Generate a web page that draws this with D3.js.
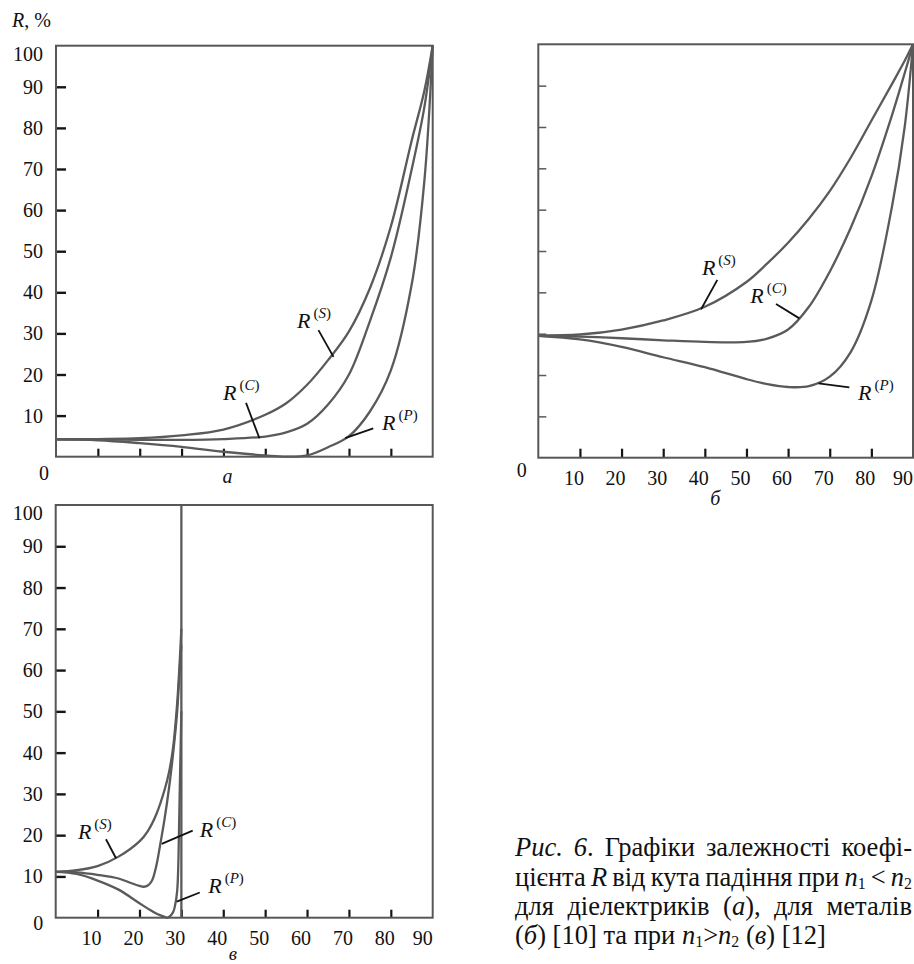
<!DOCTYPE html>
<html>
<head>
<meta charset="utf-8">
<script src="https://cdn.jsdelivr.net/npm/d3@7"></script>
<style>
  body { margin: 0; background: #fff; }
  svg { display: block; }
</style>
</head>
<body>
<svg id="chart" width="914" height="964"></svg>
<script>
// ---- data (angle of incidence, deg -> R, %) ----

// а: dielectrics, n1 < n2
const angA = [0, 10, 20, 30, 40, 50, 55, 60, 65, 70, 75, 80, 85, 88, 90];
const rsA  = [4.2, 4.3, 4.5, 5.2, 6.6, 10.2, 13.0, 17.5, 23.5, 30.5, 41.0, 56.0, 77.0, 89.0, 100];
const rcA  = [4.2, 4.2, 4.1, 4.1, 4.3, 4.9, 5.9, 8.0, 12.7, 20.0, 33.0, 48.5, 70.0, 85.0, 100];
const rpA  = [4.2, 4.0, 3.3, 2.4, 1.2, 0.3, 0.0, 0.3, 2.3, 5.0, 11.0, 21.0, 42.0, 67.0, 100];

// б: metals
const angB = [0, 10, 20, 30, 40, 50, 55, 60, 65, 70, 75, 80, 85, 88, 90];
const rsB  = [29.5, 29.8, 31.0, 33.2, 36.5, 42.5, 47.0, 52.0, 57.8, 64.5, 72.5, 81.5, 90.5, 96.0, 100];
const rcB  = [29.5, 29.3, 28.9, 28.4, 28.0, 28.0, 28.8, 31.0, 36.5, 45.0, 55.5, 68.0, 83.0, 93.0, 100];
const rpB  = [29.5, 28.6, 26.8, 24.3, 21.9, 19.0, 17.8, 17.1, 17.3, 19.6, 25.5, 38.0, 61.0, 80.0, 100];

// в: n1 > n2 (total internal reflection above ~30 deg)
const angSV = [0, 5, 10, 15, 20, 22, 24, 26, 27, 28, 29, 29.6, 30];
const rsV   = [11.1, 11.5, 12.5, 14.8, 18.5, 21.0, 25.0, 31.0, 35.0, 41.0, 52.0, 62.0, 70.0];
const angCV = [0, 5, 10, 15, 18, 20, 21, 22, 23, 24, 25, 26, 27, 28, 29, 29.6, 30];
const rcV   = [11.1, 11.0, 10.4, 9.5, 8.4, 7.7, 7.5, 7.8, 9.0, 12.5, 18.0, 24.0, 31.0, 39.5, 50.0, 60.0, 66.0];
const angPV = [0, 5, 10, 15, 20, 22, 24, 26, 26.7, 28, 28.5, 29, 29.3, 29.6, 30];
const rpV   = [11.1, 10.6, 9.0, 6.8, 3.5, 2.2, 1.0, 0.2, 0.0, 1.3, 3.0, 6.5, 14.0, 30.0, 50.0];
const angCrit = [30, 30];
const rCrit   = [0, 100];

const xTicks = [10, 20, 30, 40, 50, 60, 70, 80];
const xLabels = [10, 20, 30, 40, 50, 60, 70, 80, 90];
const yTicks = [10, 20, 30, 40, 50, 60, 70, 80, 90];
const yLabels = [10, 20, 30, 40, 50, 60, 70, 80, 90, 100];

// curve labels: text anchor and leader line, in data units
const notesA = [
  { sup: "S", at: [57.6, 31.3], from: [62.7, 30.8], to: [66.3, 24.3] },
  { sup: "C", at: [39.9, 13.8], from: [45.4, 13.1], to: [48.6, 4.5] },
  { sup: "P", at: [77.9, 6.5], from: [75.8, 6.9], to: [69.1, 4.5] }
];
const notesB = [
  { sup: "S", at: [39.3, 44.2], from: [43.0, 43.0], to: [39.1, 35.9] },
  { sup: "C", at: [50.9, 37.4], from: [57.1, 37.2], to: [62.7, 33.7] },
  { sup: "P", at: [76.8, 14.0], from: [74.7, 17.0], to: [67.3, 18.0] }
];
const notesV = [
  { sup: "S", at: [5.3, 19.1], from: [12.0, 19.0], to: [14.4, 14.4] },
  { sup: "C", at: [34.4, 19.6], from: [32.7, 21.1], to: [25.3, 17.9] },
  { sup: "P", at: [36.4, 6.0], from: [34.4, 6.1], to: [28.9, 3.9] }
];

// caption, runs: [text, style]  i = italic, s = subscript
const captionLines = [
  [[["Рис.", "i"]], [["6", "i"], ["."]], [["Графіки"]], [["залежності"]], [["коефі-"]]],
  [[["цієнта"]], [["R", "i"]], [["від"]], [["кута"]], [["падіння"]], [["при"]],
   [["n", "i"], ["1", "s"]], [["<"]], [["n", "i"], ["2", "s"]]],
  [[["для"]], [["діелектриків"]], [["("], ["а", "i"], ["),"]], [["для"]], [["металів"]]],
  [[["("], ["б", "i"], [")"]], [["[10]"]], [["та"]], [["при"]],
   [["n", "i"], ["1", "s"], [">"], ["n", "i"], ["2", "s"]], [["("], ["в", "i"], [")"]], [["[12]"]]]
];

// ---- drawing ----
const svg = d3.select("#chart");
const fontName = '"Liberation Serif", "Times New Roman"';
const curveColor = "#5a5a5a";
const smooth = d3.curveCatmullRom.alpha(0.5);

function txt(g, size) {
  return g.append("text").attr("font-family", fontName).attr("font-size", size).attr("fill", "#111");
}

function makePanel(left, right, bottom, top) {
  const x = d3.scaleLinear().domain([0, 90]).range([left, right]);
  const y = d3.scaleLinear().domain([0, 100]).range([bottom, top]);
  return { g: svg.append("g"), x, y };
}

function drawFrame(p, xLen, yLen, yColor, yWidth) {
  p.g.append("g")
    .attr("transform", `translate(0,${p.y(0)})`)
    .call(d3.axisBottom(p.x).tickValues(xTicks).tickSize(-xLen).tickFormat(""))
    .call(g => g.select(".domain").remove())
    .call(g => g.selectAll(".tick line").attr("stroke", "#151515").attr("stroke-width", 2.2));
  p.g.append("g")
    .attr("transform", `translate(${p.x(0)},0)`)
    .call(d3.axisLeft(p.y).tickValues(yTicks).tickSize(-yLen).tickFormat(""))
    .call(g => g.select(".domain").remove())
    .call(g => g.selectAll(".tick line").attr("stroke", yColor).attr("stroke-width", yWidth));
  p.g.append("rect")
    .attr("x", p.x(0)).attr("y", p.y(100))
    .attr("width", p.x(90) - p.x(0)).attr("height", p.y(0) - p.y(100))
    .attr("fill", "none").attr("stroke", "#575757").attr("stroke-width", 2);
}

function drawCurve(p, xs, ys, curve) {
  const line = d3.line().x(d => p.x(d[0])).y(d => p.y(d[1])).curve(curve || smooth);
  p.g.append("path").datum(d3.zip(xs, ys))
    .attr("d", line)
    .attr("fill", "none").attr("stroke", curveColor).attr("stroke-width", 2.3)
    .attr("stroke-linejoin", "round");
}

function drawNotes(p, notes) {
  notes.forEach(n => {
    p.g.append("line")
      .attr("x1", p.x(n.from[0])).attr("y1", p.y(n.from[1]))
      .attr("x2", p.x(n.to[0])).attr("y2", p.y(n.to[1]))
      .attr("stroke", "#111").attr("stroke-width", 1.8);
    const t = txt(p.g, 22).attr("x", p.x(n.at[0])).attr("y", p.y(n.at[1]));
    t.append("tspan").attr("font-style", "italic").text("R");
    t.append("tspan").attr("font-size", 15).attr("dx", 3).attr("dy", -10).text("(");
    t.append("tspan").attr("font-size", 15).attr("font-style", "italic").text(n.sup);
    t.append("tspan").attr("font-size", 15).text(")");
  });
}

function drawYLabels(p) {
  yLabels.forEach(d => {
    txt(p.g, 20)
      .attr("x", p.x(0) - 13)
      .attr("y", p.y(d) + (d === 100 ? 8 : 0))
      .attr("dy", "0.35em")
      .attr("text-anchor", "end")
      .text(d);
  });
}

function drawXLabels(p) {
  xLabels.forEach(d => {
    txt(p.g, 20)
      .attr("x", p.x(d) - (d === 90 ? 10 : 6))
      .attr("y", p.y(0) + 27.5)
      .attr("text-anchor", "middle")
      .text(d);
  });
}

// panel а
const pa = makePanel(56, 432.7, 456.7, 45.7);
drawFrame(pa, 8, 10, "#151515", 2.4);
drawCurve(pa, angA, rsA);
drawCurve(pa, angA, rcA);
drawCurve(pa, angA, rpA);
drawNotes(pa, notesA);
drawYLabels(pa);
txt(pa.g, 20).attr("x", pa.x(0) - 12).attr("y", pa.y(0) + 23)
  .attr("text-anchor", "middle").text("0");
txt(pa.g, 20).attr("x", pa.x(41)).attr("y", pa.y(0) + 26)
  .attr("text-anchor", "middle").attr("font-style", "italic").text("а");
const title = txt(svg, 20).attr("x", 12).attr("y", 27);
title.append("tspan").attr("font-style", "italic").text("R");
title.append("tspan").text(", %");

// panel б
const pb = makePanel(538.3, 913, 457.7, 44.3);
drawFrame(pb, 9, 8, "#5a5a5a", 1.5);
drawCurve(pb, angB, rsB);
drawCurve(pb, angB, rcB);
drawCurve(pb, angB, rpB);
drawNotes(pb, notesB);
drawXLabels(pb);
txt(pb.g, 20).attr("x", pb.x(0) - 16.6).attr("y", pb.y(0) + 19)
  .attr("text-anchor", "middle").text("0");
txt(pb.g, 20).attr("x", pb.x(42.5)).attr("y", pb.y(0) + 47)
  .attr("text-anchor", "middle").attr("font-style", "italic").text("б");

// panel в
const pv = makePanel(55.7, 432.7, 917.7, 505);
drawFrame(pv, 8, 10, "#151515", 2.4);
drawCurve(pv, angCrit, rCrit, d3.curveLinear);
drawCurve(pv, angSV, rsV);
drawCurve(pv, angCV, rcV);
drawCurve(pv, angPV, rpV);
drawNotes(pv, notesV);
drawYLabels(pv);
drawXLabels(pv);
txt(pv.g, 20).attr("x", pv.x(0) - 17.4).attr("y", pv.y(0) + 12.5)
  .attr("text-anchor", "middle").text("0");
txt(pv.g, 19).attr("x", pv.x(42.3)).attr("y", pv.y(0) + 41.8)
  .attr("text-anchor", "middle").attr("font-style", "italic").text("в");

// caption (justified lines 1-3)
const capSize = 26.5, capLeft = 515, capRight = 912;
const capBase = [856, 885.5, 915, 944];
const cap = svg.append("g");

function drawWord(g, word) {
  const t = txt(g, capSize);
  let shifted = false;
  word.forEach(([s, st]) => {
    const ts = t.append("tspan").text(s);
    if (st === "i") ts.attr("font-style", "italic");
    if (st === "s") {
      ts.attr("font-size", capSize * 0.6).attr("dy", 3);
      shifted = true;
    } else if (shifted) {
      ts.attr("dy", -3);
      shifted = false;
    }
  });
  return t;
}

captionLines.forEach((words, li) => {
  const texts = words.map(w => drawWord(cap, w));
  const widths = texts.map(t => t.node().getComputedTextLength());
  const total = d3.sum(widths);
  const gap = li < 3 ? (capRight - capLeft - total) / (words.length - 1) : capSize * 0.25;
  let x = capLeft;
  texts.forEach((t, i) => {
    t.attr("x", x).attr("y", capBase[li]);
    x += widths[i] + gap;
  });
});
</script>
</body>
</html>
